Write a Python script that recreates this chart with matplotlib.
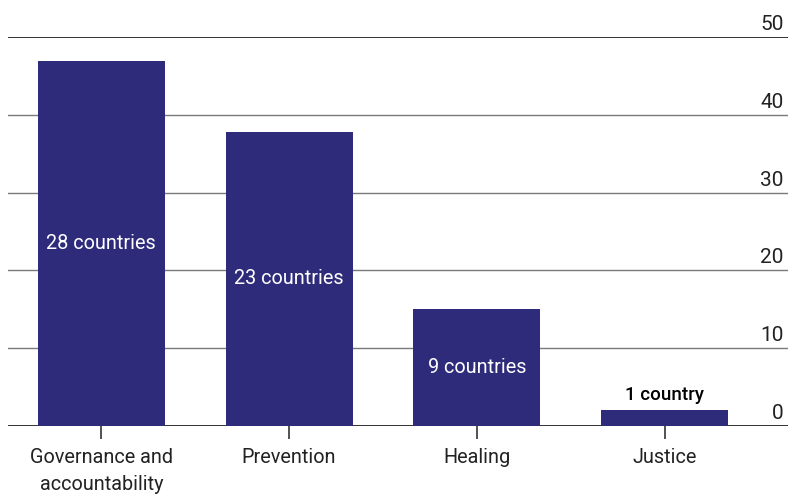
import matplotlib.pyplot as plt
from matplotlib.transforms import blended_transform_factory, offset_copy

plt.rcParams['font.family'] = ['Roboto', 'DejaVu Sans']

categories = ['Governance and\naccountability', 'Prevention', 'Healing', 'Justice']
values = [46.9, 37.8, 15.0, 2.0]
bar_labels = ['28 countries', '23 countries', '9 countries', '1 country']
yticks = [0, 10, 20, 30, 40, 50]

bar_color = '#2e2b7b'

fig = plt.figure(figsize=(7.88, 4.95), dpi=100)
ax = fig.add_axes([8 / 788, 69 / 495, 780 / 788, 389 / 495])

x = list(range(len(categories)))
ax.set_xlim(-0.497, 3.657)
ax.set_ylim(0, 50)

# gridlines
for t in yticks:
    dark = t in (0, 50)
    ax.axhline(t, color='#333333' if dark else '#7a7a7a',
               lw=1.4 if dark else 1.0, zorder=1)

ax.bar(x, values, width=0.676, color=bar_color, zorder=2)

for xi, v, lab in zip(x, values, bar_labels):
    if v > 5:
        ax.text(xi, v / 2, lab, ha='center', va='center', color='white',
                fontsize=14.3, zorder=3)
    else:
        ax.text(xi, v + 0.8, lab, ha='center', va='bottom', color='black',
                fontsize=13.5, fontweight='medium', zorder=3)

# right-hand tick labels sitting above each gridline
trans = blended_transform_factory(ax.transAxes, ax.transData)
trans = offset_copy(trans, fig=fig, x=-2, y=3, units='dots')
for t in yticks:
    ax.text(0.997, t, str(t), transform=trans, ha='right', va='bottom',
            fontsize=15, color='#222222', clip_on=False)

ax.set_yticks([])
ax.set_xticks(x)
ax.set_xticklabels(categories, fontsize=14.3, color='#222222', linespacing=1.5)
ax.tick_params(axis='x', length=9, width=1.2, color='#333333', pad=7)
for s in ax.spines.values():
    s.set_visible(False)

fig.savefig('out.png', dpi=100)
